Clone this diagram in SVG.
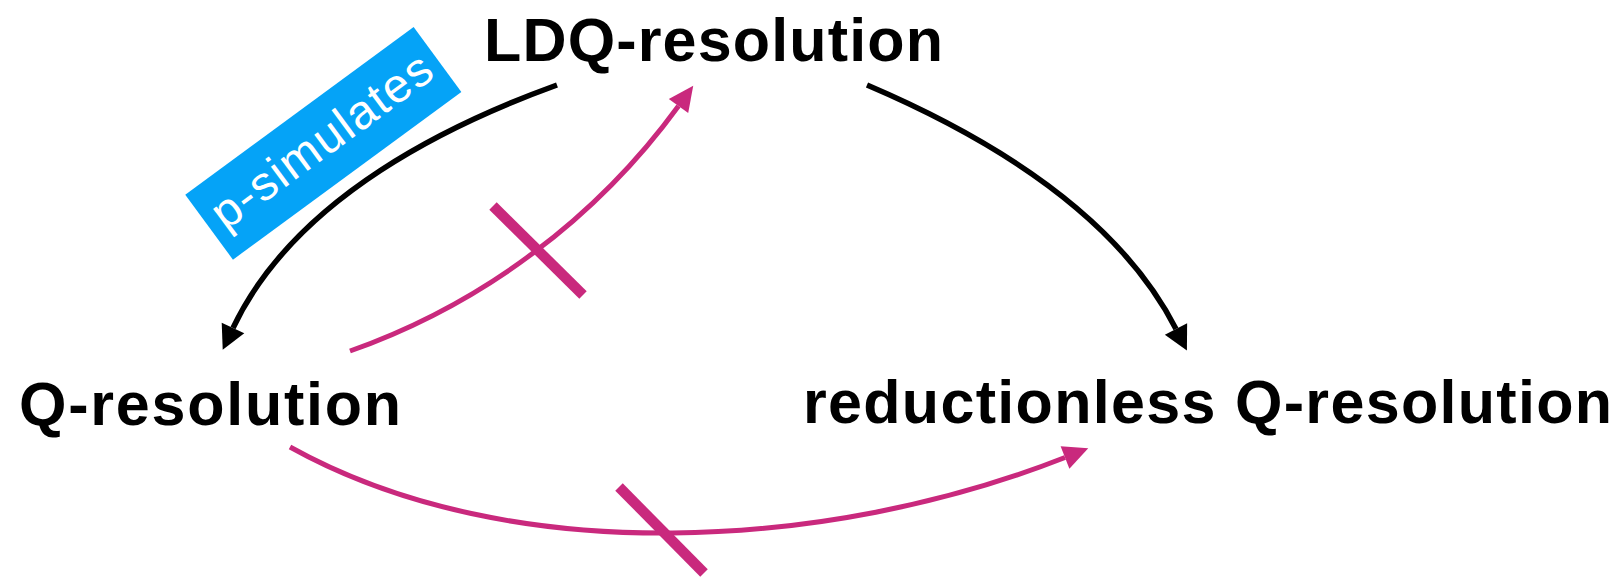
<svg xmlns="http://www.w3.org/2000/svg" width="1624" height="578" viewBox="0 0 1624 578">
  <style>
    .label { font-family: "Liberation Sans", Arial, Helvetica, sans-serif; font-weight: bold; font-size: 61px; fill: #000; }
    .tag { font-family: "Liberation Sans", Arial, Helvetica, sans-serif; font-size: 48px; fill: #fff; }
    .sim { fill: none; stroke: #000; stroke-width: 5.5; }
    .nosim { fill: none; stroke: #C9297D; stroke-width: 5; }
    .cross { stroke: #C9297D; stroke-width: 10.5; }
  </style>
  <defs>
    <marker id="head-black" markerUnits="userSpaceOnUse" orient="auto" refX="0" refY="0" markerWidth="30" markerHeight="30" overflow="visible">
      <path d="M0,-12.5 L24,0 L0,12.5 Z" fill="#000"/>
    </marker>
    <marker id="head-magenta" markerUnits="userSpaceOnUse" orient="auto" refX="0" refY="0" markerWidth="30" markerHeight="30" overflow="visible">
      <path d="M0,-12 L25,0 L0,12 Z" fill="#C9297D"/>
    </marker>
  </defs>

  <rect width="1624" height="578" fill="#fff"/>

  <!-- connectors -->
  <g id="connectors">
    <!-- LDQ-resolution p-simulates Q-resolution -->
    <path class="sim" d="M557,85 C455,122 296,195 233,328" marker-end="url(#head-black)"/>
    <!-- LDQ-resolution p-simulates reductionless Q-resolution -->
    <path class="sim" d="M867,85 C1024,152 1127,233 1176,329" marker-end="url(#head-black)"/>
    <!-- Q-resolution does not p-simulate LDQ-resolution -->
    <path class="nosim" d="M350,351 C481.7,304.4 596.2,218.9 678.5,106" marker-end="url(#head-magenta)"/>
    <line class="cross" x1="493" y1="206" x2="583" y2="295"/>
    <!-- Q-resolution does not p-simulate reductionless Q-resolution -->
    <path class="nosim" d="M290,447 C511,570 830,550 1065,457.5" marker-end="url(#head-magenta)"/>
    <line class="cross" x1="619" y1="487" x2="704" y2="573"/>
  </g>

  <!-- edge tag -->
  <g id="tag-psimulates" transform="translate(323.3,143.3) rotate(-36.3)">
    <rect x="-141.7" y="-40.3" width="283.4" height="80.6" fill="#05A3F7"/>
    <text class="tag" x="0" y="13" text-anchor="middle" textLength="262" lengthAdjust="spacing">p-simulates</text>
  </g>

  <!-- nodes -->
  <g id="node-ldq">
    <text class="label" x="484" y="61" textLength="459" lengthAdjust="spacing">LDQ-resolution</text>
  </g>
  <g id="node-q">
    <text class="label" x="19" y="425" textLength="382" lengthAdjust="spacing">Q-resolution</text>
  </g>
  <g id="node-reductionless">
    <text class="label" x="803" y="423" textLength="809" lengthAdjust="spacing">reductionless Q-resolution</text>
  </g>
</svg>
